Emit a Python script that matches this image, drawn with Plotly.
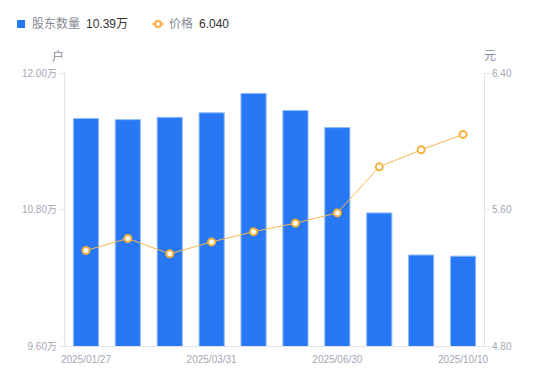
import plotly.graph_objects as go

dates = ["2025/01/27", "2025/02/14", "2025/02/28", "2025/03/31", "2025/04/30",
         "2025/05/20", "2025/06/30", "2025/08/20", "2025/09/30", "2025/10/10"]
holders = [11.60, 11.59, 11.61, 11.65, 11.82, 11.67, 11.52, 10.77, 10.40, 10.39]  # 万户
price = [5.36, 5.43, 5.34, 5.41, 5.47, 5.52, 5.58, 5.85, 5.95, 6.04]

label_idx = [0, 3, 6, 9]

left_ticks = [9.6, 10.8, 12.0]
right_ticks = [4.8, 5.6, 6.4]

GRAY = "#a3a7b5"
AXIS = "#e3e4e8"
LEG_GRAY = "#888b96"
BLUE = "#2878f5"
ORANGE = "#f7b038"
FONT = "Liberation Sans, Noto Sans CJK SC, sans-serif"

W, H = 550, 381
OFF = 8  # page body margin offset of the rendered figure
# plot area in screen pixels
L, R, T, B = 65, 484, 73, 346
def px(xp):
    return (xp - L) / (R - L)
def py(yp):
    return (B - yp) / (B - T)

x = list(range(len(dates)))

fig = go.Figure()
fig.add_trace(go.Bar(
    x=x, y=holders, yaxis="y", name="股东数量",
    marker=dict(color=BLUE, line=dict(color="#8fbaf9", width=1)),
    width=0.6,
))
fig.add_trace(go.Scatter(
    x=x, y=price, yaxis="y2", mode="lines+markers", name="价格",
    line=dict(color="#f7b84a", width=1),
    marker=dict(symbol="circle", size=7, color="white", line=dict(color=ORANGE, width=2)),
))

LY = 24
shapes = [
    dict(type="rect", xref="paper", yref="paper", x0=px(17), x1=px(25), y0=py(28), y1=py(20),
         fillcolor=BLUE, line=dict(width=0)),
    dict(type="line", xref="paper", yref="paper", x0=px(152), x1=px(164), y0=py(LY), y1=py(LY),
         line=dict(color=ORANGE, width=1.5)),
    dict(type="circle", xref="paper", yref="paper", x0=px(155), x1=px(161), y0=py(LY + 3), y1=py(LY - 3),
         fillcolor="white", line=dict(color=ORANGE, width=2)),
]

def ann(text, xp, yp, color, size=12, anchor="left"):
    return dict(text=text, xref="paper", yref="paper", x=px(xp), y=py(yp), showarrow=False,
                xanchor=anchor, yanchor="middle", font=dict(size=size, color=color))

annotations = [
    ann("股东数量", 30, LY, LEG_GRAY),
    ann("%.2f万" % holders[-1], 84, LY, "#333333"),
    ann("价格", 167, LY, LEG_GRAY),
    ann("%.3f" % price[-1], 197, LY, "#333333"),
    ann("户", 58, 56, LEG_GRAY, anchor="center"),
    ann("元", 490, 56, LEG_GRAY, anchor="center"),
]

fig.update_layout(
    width=W, height=H,
    margin=dict(l=L - OFF, r=W - R + OFF, t=T - OFF, b=H - B + OFF, autoexpand=False),
    paper_bgcolor="white", plot_bgcolor="white",
    font=dict(family=FONT, size=10, color=GRAY),
    showlegend=False,
    shapes=shapes,
    annotations=annotations,
    xaxis=dict(range=[-0.5, len(dates) - 0.5], tickmode="array",
               tickvals=label_idx, ticktext=[dates[i] for i in label_idx],
               showgrid=False, zeroline=False, showline=True, linecolor=AXIS,
               ticks="", ticklabelstandoff=4, tickfont=dict(size=10, color=GRAY)),
    yaxis=dict(range=[left_ticks[0], left_ticks[-1]], tickmode="array",
               tickvals=left_ticks, ticktext=["%.2f万" % v for v in left_ticks],
               showgrid=False, zeroline=False, showline=True, linecolor=AXIS,
               ticks="outside", ticklen=5, tickcolor=AXIS,
               tickfont=dict(size=10, color=GRAY)),
    yaxis2=dict(range=[right_ticks[0], right_ticks[-1]], overlaying="y", side="right",
                tickmode="array", tickvals=right_ticks,
                ticktext=["%.2f" % v for v in right_ticks],
                showgrid=False, zeroline=False, showline=True, linecolor=AXIS,
                ticks="outside", ticklen=5, tickcolor=AXIS,
                tickfont=dict(size=10, color=GRAY)),
)

fig.write_html("out.html")
